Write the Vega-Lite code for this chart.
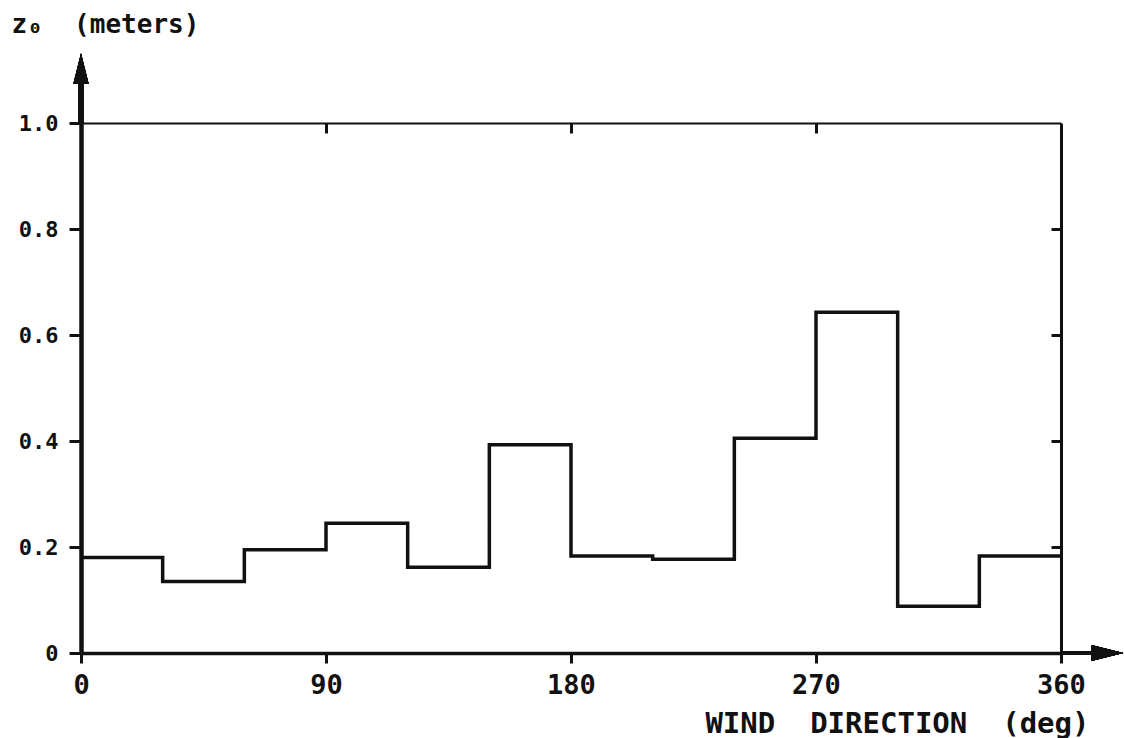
{
  "$schema": "https://vega.github.io/schema/vega-lite/v6.json",
  "width": 980,
  "height": 530,
  "autosize": {"type": "none"},
  "padding": {"left": 81, "top": 123, "right": 63, "bottom": 85},
  "background": "white",
  "config": {
    "view": {"stroke": null},
    "font": "DejaVu Sans Mono",
    "axis": {
      "grid": false,
      "domainColor": "#111",
      "tickColor": "#111",
      "labelColor": "#111",
      "titleColor": "#111",
      "labelFont": "DejaVu Sans Mono",
      "labelFontWeight": "bold",
      "titleFont": "DejaVu Sans Mono",
      "titleFontWeight": "bold"
    }
  },
  "data": {
    "values": [
      {"direction": 0, "z0": 0.18},
      {"direction": 30, "z0": 0.135},
      {"direction": 60, "z0": 0.195},
      {"direction": 90, "z0": 0.245},
      {"direction": 120, "z0": 0.162},
      {"direction": 150, "z0": 0.393},
      {"direction": 180, "z0": 0.183},
      {"direction": 210, "z0": 0.177},
      {"direction": 240, "z0": 0.405},
      {"direction": 270, "z0": 0.643},
      {"direction": 300, "z0": 0.088},
      {"direction": 330, "z0": 0.183},
      {"direction": 360, "z0": 0.183}
    ]
  },
  "resolve": {"axis": {"x": "independent", "y": "independent"}},
  "layer": [
    {
      "mark": {"type": "line", "interpolate": "step-after", "strokeWidth": 3.5, "color": "#111"},
      "encoding": {
        "x": {
          "field": "direction",
          "type": "quantitative",
          "scale": {"domain": [0, 360], "nice": false, "zero": false},
          "axis": {
            "orient": "bottom",
            "values": [0, 90, 180, 270, 360],
            "tickSize": 10,
            "tickWidth": 3,
            "domainWidth": 3.5,
            "labelFontSize": 27,
            "labelPadding": 9,
            "labelFlush": false,
            "title": "WIND\u00a0\u00a0DIRECTION\u00a0\u00a0(deg)",
            "titleFontSize": 29,
            "titleAlign": "right",
            "titleBaseline": "alphabetic",
            "titleAnchor": null,
            "titleX": 1008,
            "titleY": 79
          }
        },
        "y": {
          "field": "z0",
          "type": "quantitative",
          "scale": {"domain": [0, 1], "nice": false},
          "axis": {
            "orient": "left",
            "values": [0, 0.2, 0.4, 0.6, 0.8, 1.0],
            "tickSize": 12,
            "tickWidth": 3,
            "domainWidth": 4.5,
            "labelFontSize": 22,
            "labelPadding": 11,
            "labelFlush": false,
            "labelExpr": "datum.value === 0 ? '0' : format(datum.value, '.1f')",
            "title": "z₀\u00a0\u00a0(meters)",
            "titleFontSize": 26,
            "titleAngle": 0,
            "titleAlign": "left",
            "titleBaseline": "alphabetic",
            "titleAnchor": null,
            "titleX": -70,
            "titleY": -91
          }
        }
      }
    },
    {
      "mark": {"type": "point", "opacity": 0},
      "encoding": {
        "x": {
          "field": "direction",
          "type": "quantitative",
          "axis": {
            "orient": "top",
            "values": [90, 180, 270],
            "tickSize": -10,
            "tickWidth": 3,
            "domainWidth": 2,
            "labels": false,
            "title": null
          }
        },
        "y": {
          "field": "z0",
          "type": "quantitative",
          "axis": {
            "orient": "right",
            "values": [0.2, 0.4, 0.6, 0.8],
            "tickSize": -10,
            "tickWidth": 3,
            "domainWidth": 3,
            "labels": false,
            "title": null
          }
        }
      }
    },
    {
      "mark": {"type": "rule", "strokeWidth": 4.5, "color": "#111"},
      "encoding": {
        "x": {"datum": 0, "type": "quantitative", "axis": null},
        "y": {"datum": 1.0, "type": "quantitative", "axis": null},
        "y2": {"datum": 1.1}
      }
    },
    {
      "mark": {"type": "rule", "strokeWidth": 3.5, "color": "#111"},
      "encoding": {
        "x": {"datum": 360, "type": "quantitative", "axis": null},
        "x2": {"datum": 377},
        "y": {"datum": 0, "type": "quantitative", "axis": null}
      }
    },
    {
      "mark": {"type": "point", "shape": "M-0.5,1L0,-1L0.5,1Z", "size": 900, "filled": true, "opacity": 1, "color": "#111"},
      "encoding": {
        "x": {"datum": 0, "type": "quantitative", "axis": null},
        "y": {"datum": 1.103, "type": "quantitative", "axis": null}
      }
    },
    {
      "mark": {"type": "point", "shape": "M-1,-0.5L1,0L-1,0.5Z", "size": 1024, "filled": true, "opacity": 1, "color": "#111"},
      "encoding": {
        "x": {"datum": 377, "type": "quantitative", "axis": null},
        "y": {"datum": 0, "type": "quantitative", "axis": null}
      }
    }
  ]
}
